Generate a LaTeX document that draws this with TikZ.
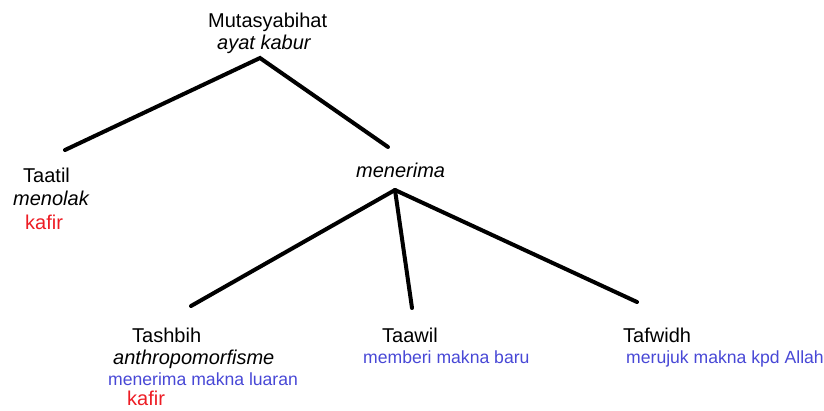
\documentclass[tikz,border=0pt]{standalone}
\usepackage{fontspec}
\setmainfont{Liberation Sans}
\usepackage{tikz}

\definecolor{kafirred}{RGB}{237,28,36}
\definecolor{maknablue}{RGB}{72,72,214}

\begin{document}
\begin{tikzpicture}[x=1pt, y=-1pt,
    lbl/.style={anchor=base west, inner sep=0pt, font=\fontsize{20}{23}\selectfont},
    note/.style={anchor=base west, inner sep=0pt, text=maknablue, font=\fontsize{17.6}{21}\selectfont},
    branch/.style={line width=4pt, line cap=round, line join=miter}]
    \useasboundingbox (0,0) rectangle (824,410);

    % root
    \node[lbl] (mut) at (208,27) {Mutasyabihat};
    \node[lbl] (mutsub) at (217,49) {\itshape ayat kabur};
    \coordinate (apex1) at (260,58);

    % left and right of the root
    \node[lbl] (taatil) at (23,182) {Taatil};
    \node[lbl] (menolak) at (13,205) {\itshape menolak};
    \node[lbl, text=kafirred] (kafir1) at (25,229) {kafir};
    \node[lbl] (terima) at (356,177) {\itshape menerima};
    \coordinate (endL) at (65,150);
    \coordinate (endR) at (388,147);
    \coordinate (apex2) at (395,190);

    % three ways
    \node[lbl] (tashbih) at (132,342) {Tashbih};
    \node[lbl] (anthro) at (113,364) {\itshape anthropomorfisme};
    \node[note] (luaran) at (108,385) {menerima makna luaran};
    \node[lbl, text=kafirred] (kafir2) at (127,405) {kafir};
    \node[lbl] (taawil) at (382,342) {Taawil};
    \node[note] (baru) at (363,363) {memberi makna baru};
    \node[lbl] (tafwidh) at (623,342) {Tafwidh};
    \node[note] (allah) at (626,363) {merujuk makna kpd Allah};
    \coordinate (end1) at (191,306);
    \coordinate (end2) at (412,308);
    \coordinate (end3) at (637,302);

    \draw[branch] (endL) -- (apex1) -- (endR);
    \draw[branch] (apex2) -- (end1);
    \draw[branch] (apex2) -- (end2);
    \draw[branch] (apex2) -- (end3);
\end{tikzpicture}
\end{document}
